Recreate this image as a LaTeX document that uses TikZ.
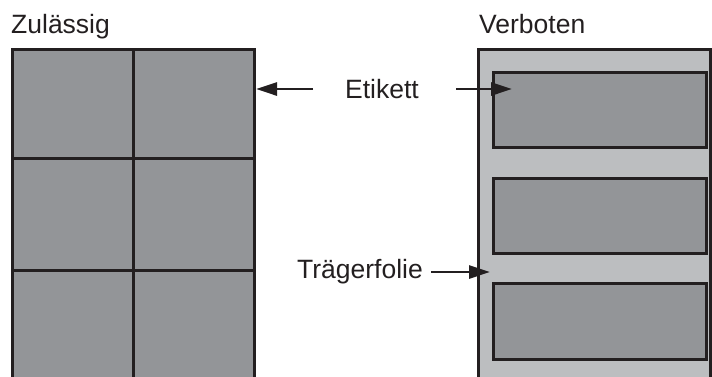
\documentclass[tikz,border=0pt]{standalone}
\usepackage{fontspec}
\setmainfont{Liberation Sans}
\usetikzlibrary{arrows.meta}
\definecolor{darkfill}{HTML}{939598}
\definecolor{lightfill}{HTML}{BCBEC0}
\definecolor{edge}{HTML}{231F20}
\tikzset{
  cell/.style={draw=edge,line width=3pt,fill=darkfill},
  sheet/.style={draw=edge,line width=3pt,fill=lightfill},
  lbl/.style={font=\fontsize{26.5}{30}\selectfont,text=edge,inner sep=0pt},
  pointer/.style={draw=edge,line width=2.8pt,-{Triangle[length=21pt,width=13pt]}}
}
\begin{document}
\begin{tikzpicture}[x=1pt,y=-1pt]
\useasboundingbox (0,0) rectangle (712,376);
\clip (0,0) rectangle (712,376);
% left grid
\foreach \r/\ya/\yb in {1/49/158,2/158/270,3/270/390}{
  \draw[cell] (12,\ya) rectangle (133,\yb);
  \draw[cell] (133,\ya) rectangle (254,\yb);
}
\coordinate (gridedge) at (256,89);
% right sheet
\draw[sheet] (478,49) rectangle (710.5,400);
\draw[cell] (493,72) rectangle (706,147);
\draw[cell] (493,178) rectangle (706,253);
\draw[cell] (493,283) rectangle (706,359);
\coordinate (labeltarget) at (512,89);
\coordinate (sheettarget) at (490,272);
% labels
\node[lbl,anchor=base west] (zul) at (11,33) {Zulässig};
\node[lbl,anchor=base west] (verb) at (479,33) {Verboten};
\node[lbl] (etikett) at (382,89) {Etikett};
\node[lbl] (traeger) at (360,272) {Trägerfolie};
% arrows
\draw[pointer] (313,89) -- (gridedge);
\draw[pointer] (456,89) -- (labeltarget);
\draw[pointer] (431,272) -- (sheettarget);
\end{tikzpicture}
\end{document}
